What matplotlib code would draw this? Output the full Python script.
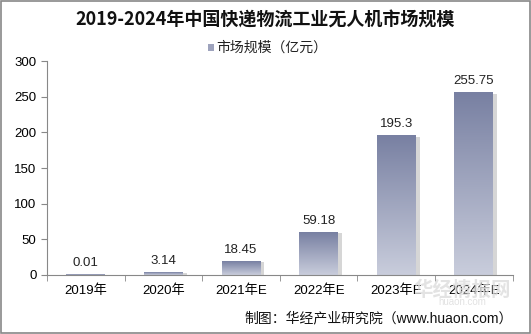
import matplotlib.pyplot as plt
import numpy as np
from matplotlib.patches import Rectangle
from matplotlib.colors import LinearSegmentedColormap

plt.rcParams['font.family'] = ['Liberation Sans', 'Noto Sans CJK SC']

years = ['2019年', '2020年', '2021年E', '2022年E', '2023年E', '2024年E']
values = [0.01, 3.14, 18.45, 59.18, 195.3, 255.75]
labels = ['0.01', '3.14', '18.45', '59.18', '195.3', '255.75']

fig = plt.figure(figsize=(5.31, 3.34), dpi=100)
ax = fig.add_axes([0.0885, 0.177, 0.877, 0.64])

cmap = LinearSegmentedColormap.from_list('bar', ['#c9cddc', '#7880a2'])
grad = np.linspace(0, 1, 256).reshape(-1, 1)
width = 0.5
x = np.arange(len(years))

for xi, v, lab in zip(x, values, labels):
    # shadow
    ax.add_patch(Rectangle((xi - width / 2 + 0.05, 0), width, v * 0.99,
                           facecolor='#d6d6d6', edgecolor='none', zorder=1))
    ax.imshow(grad, extent=(xi - width / 2, xi + width / 2, 0, v), origin='lower',
              cmap=cmap, aspect='auto', zorder=2)
    ax.text(xi, v + 8, lab, ha='center', va='bottom', fontsize=9.5, color='#222222')

ax.set_xlim(-0.5, len(years) - 0.5)
ax.set_ylim(0, 300)
ax.set_yticks(range(0, 301, 50))
ax.set_xticks(x)
ax.set_xticklabels(years, fontsize=9.5)
ax.set_xticks(np.arange(-0.5, len(years), 1), minor=True)
ax.tick_params(axis='x', which='major', length=0, pad=7)
ax.tick_params(axis='x', which='minor', length=4, color='#888888')
ax.tick_params(axis='y', labelsize=9.5, length=4, color='#888888')
for s in ['top', 'right']:
    ax.spines[s].set_visible(False)
for s in ['left', 'bottom']:
    ax.spines[s].set_color('#888888')

fig.text(0.5, 0.94, '2019-2024年中国快递物流工业无人机市场规模', ha='center', va='center',
         fontsize=13, fontweight='bold', color='#111111', family='Noto Sans CJK SC')

# legend
fig.patches.append(Rectangle((0.392, 0.848), 0.011, 0.02, transform=fig.transFigure,
                             facecolor='#9ea3bd', edgecolor='none'))
fig.text(0.407, 0.858, '市场规模（亿元）', ha='left', va='center', fontsize=10, color='#222222')

# watermark
fig.text(0.87, 0.13, '华经情报网', ha='center', va='center', fontsize=14,
         fontweight='bold', color='#dddddd', alpha=0.8, zorder=0)
fig.text(0.87, 0.095, 'huaon.com', ha='center', va='center', fontsize=7,
         color='#e2e2e2', zorder=0)

fig.text(0.965, 0.048, '制图：华经产业研究院（www.huaon.com）', ha='right', va='center',
         fontsize=10, color='#111111')

fig.patches.append(Rectangle((0.001, 0.002), 0.997, 0.995, transform=fig.transFigure,
                             facecolor='none', edgecolor='#888888', linewidth=1.2))

fig.savefig('out.png', dpi=100)
